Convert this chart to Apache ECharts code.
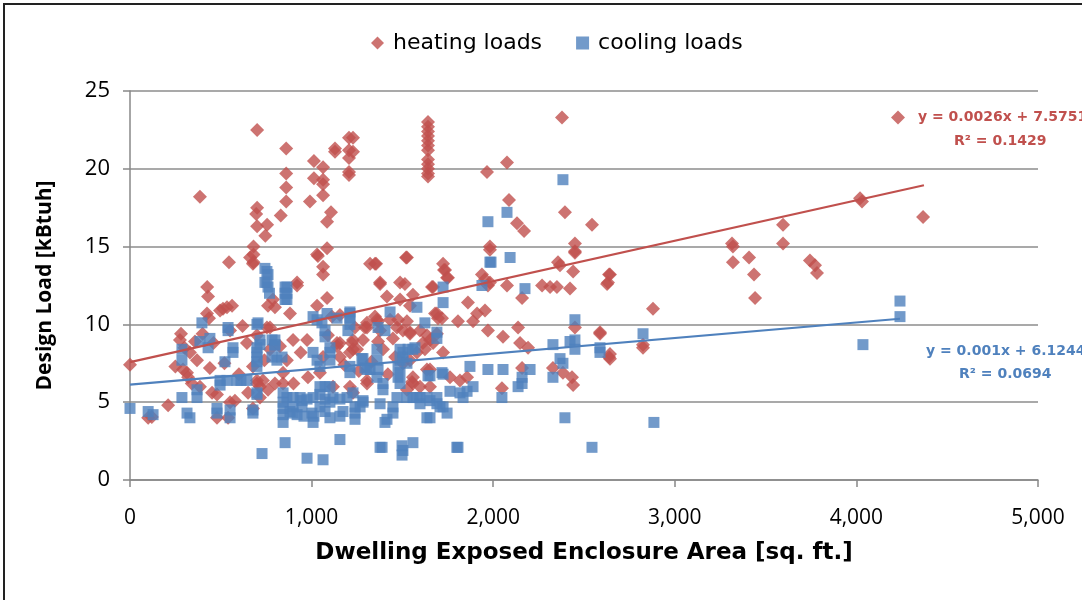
<!DOCTYPE html>
<html>
<head>
<meta charset="utf-8">
<script src="https://cdn.jsdelivr.net/npm/echarts@6/dist/echarts.min.js"></script>
<style>html,body{margin:0;padding:0;background:#fff;}#chart{width:1082px;height:600px;}</style>
</head>
<body>
<div id="chart"></div>
<script>
// ---- data ----
const xTicks = [0, 1000, 2000, 3000, 4000, 5000];
const yTicks = [0, 5, 10, 15, 20, 25];
const seriesNames = ['heating loads', 'cooling loads'];
const heatingTrend = { slope: 0.0026, intercept: 7.5751, r2: 0.1429, xEnd: 4372 };
const coolingTrend = { slope: 0.001, intercept: 6.1244, r2: 0.0694, xEnd: 4240 };

const heating = [
[0,7.4],[100,4.0],[120,4.05],[210,4.8],[281,9.4],[275,9.0],[292,7.1],[314,6.9],[320,6.6],[330,8.2],[358,8.9],[369,7.7],[385,18.2],[385,6.0],[425,12.4],[430,11.8],[424,10.7],[435,10.4],[440,7.2],[452,5.6],[479,5.5],[479,4.0],[496,10.9],[512,11.0],[534,11.1],[545,14.0],[562,11.2],[540,4.0],[551,5.0],[578,5.1],[551,9.6],[644,8.8],[661,14.3],[677,13.9],[677,7.3],[699,6.4],[677,4.6],[732,6.4],[716,6.0],[699,9.3],[699,6.2],[716,5.3],[680,15.0],[680,14.5],[680,14.0],[700,22.5],[700,17.5],[695,17.1],[700,16.3],[755,16.4],[745,15.7],[760,11.2],[787,11.6],[798,11.1],[754,9.8],[771,9.8],[771,8.4],[798,6.2],[826,8.6],[843,6.9],[843,6.2],[830,17.0],[860,21.3],[860,19.7],[860,18.8],[860,17.9],[864,7.7],[881,10.7],[898,9.0],[920,12.5],[920,12.7],[975,9.0],[980,6.6],[991,17.9],[1013,20.5],[1013,19.4],[1030,14.5],[1030,11.2],[1035,14.4],[1046,6.9],[1063,20.1],[1063,19.3],[1063,19.0],[1063,18.3],[1063,13.7],[1063,13.2],[1063,7.9],[1085,16.6],[1085,14.9],[1085,11.7],[1107,17.2],[1112,10.5],[1118,6.0],[1129,21.3],[1129,21.1],[1140,8.6],[1140,8.8],[1156,8.8],[1156,10.6],[1156,7.9],[1206,22.0],[1228,22.0],[1206,21.2],[1228,21.1],[1206,20.7],[1206,19.8],[1206,19.6],[1211,8.2],[1211,6.0],[1222,8.8],[1228,9.0],[1228,8.4],[1228,5.6],[1239,9.8],[1250,8.4],[1283,9.0],[1294,9.8],[1305,9.8],[1305,10.1],[1305,6.2],[1305,6.4],[1322,13.9],[1349,13.9],[1349,10.5],[1355,13.9],[1360,10.3],[1366,10.2],[1366,8.9],[1377,12.6],[1377,12.7],[1377,9.6],[1393,8.4],[1415,11.8],[1432,10.3],[1448,9.1],[1470,9.8],[1476,10.3],[1487,12.7],[1487,11.6],[1503,9.6],[1503,7.5],[1514,12.6],[1520,14.3],[1525,14.3],[1525,10.2],[1525,5.8],[1542,11.2],[1542,9.5],[1542,9.4],[1542,7.7],[1558,11.9],[1558,6.6],[1553,6.3],[1558,6.2],[1580,8.2],[1597,9.6],[1597,6.0],[1613,8.8],[1624,8.4],[1635,9.3],[1635,7.1],[1641,23.0],[1641,22.7],[1641,22.4],[1641,22.1],[1641,21.8],[1641,21.5],[1641,21.2],[1641,20.6],[1641,20.3],[1641,20.0],[1641,19.7],[1641,19.5],[1652,9.0],[1652,7.1],[1652,6.0],[1663,12.4],[1669,8.8],[1669,12.4],[1680,10.7],[1690,9.4],[1690,10.7],[1696,10.4],[1718,10.4],[1724,13.9],[1724,8.2],[1729,13.5],[1735,13.5],[1746,13.0],[1751,13.0],[1762,6.6],[1806,10.2],[1817,6.4],[1856,6.6],[1861,11.4],[1889,10.2],[1911,10.7],[1938,13.2],[1955,12.9],[1955,10.9],[1966,19.8],[1971,12.5],[1971,9.6],[1982,15.0],[1982,14.8],[1982,12.7],[2048,5.9],[2054,9.2],[2076,20.4],[2076,12.5],[2087,18.0],[2131,16.5],[2137,9.8],[2148,8.8],[2159,11.7],[2159,7.2],[2170,16.0],[2192,8.5],[2269,12.5],[2313,12.4],[2329,7.2],[2351,12.4],[2357,14.0],[2368,13.8],[2379,23.3],[2384,6.9],[2395,17.2],[2423,12.3],[2434,6.6],[2440,6.1],[2440,13.4],[2450,15.2],[2450,14.7],[2450,14.6],[2450,9.8],[2544,16.4],[2588,9.5],[2588,9.4],[2627,12.6],[2632,12.7],[2638,13.2],[2638,7.9],[2643,13.2],[2643,8.1],[2643,7.8],[2825,8.7],[2825,8.5],[2880,11.0],[3315,15.2],[3320,15.0],[3320,14.0],[3409,14.3],[3436,13.2],[3442,11.7],[3596,16.4],[3596,15.2],[3744,14.1],[3772,13.8],[3783,13.3],[4020,18.1],[4031,17.9],[4229,23.3],[4367,16.9],
[250,7.3],[300,8.5],[340,6.2],[400,9.4],[460,8.8],[520,7.5],[600,6.8],[620,9.9],[650,5.6],[740,7.7],[760,5.8],[900,6.2],[940,8.2],[1090,9.3],[1180,7.4],[1260,7.0],[1330,7.6],[1420,6.8],[1460,7.9]
];

const cooling = [
[0,4.6],[100,4.4],[127,4.2],[286,8.4],[286,7.7],[286,5.3],[314,4.3],[330,4.0],[369,5.8],[369,5.3],[396,10.1],[385,8.9],[440,9.1],[430,8.5],[479,4.6],[479,4.3],[496,6.4],[496,6.1],[523,7.6],[540,9.8],[540,9.6],[551,4.5],[551,4.0],[567,8.5],[567,8.2],[534,6.4],[589,6.4],[611,6.4],[644,6.4],[677,4.5],[677,4.3],[699,5.6],[699,5.5],[699,8.5],[699,8.2],[699,7.9],[699,7.6],[699,7.3],[699,10.0],[705,10.1],[716,8.7],[716,9.0],[727,1.7],[743,13.6],[754,13.4],[760,13.2],[743,12.7],[760,12.4],[754,12.7],[768,12.0],[782,9.0],[798,8.7],[798,9.0],[798,8.6],[782,7.9],[809,7.7],[837,7.9],[843,5.6],[843,5.0],[843,4.6],[843,4.2],[843,3.7],[854,12.4],[854,12.0],[854,11.6],[854,2.4],[864,12.4],[864,11.6],[864,12.0],[898,5.3],[898,4.7],[898,4.3],[947,5.1],[947,4.7],[1002,4.3],[1008,3.7],[975,1.4],[1063,1.3],[1008,10.5],[1030,10.3],[1008,8.2],[1030,7.7],[1046,7.3],[1057,10.1],[1074,9.6],[1074,9.2],[1085,10.7],[1046,6.0],[1074,6.0],[1101,6.0],[1046,5.5],[1074,5.2],[1101,5.0],[1046,4.7],[1074,4.4],[1101,4.0],[1101,8.5],[1101,8.2],[1101,7.7],[1140,10.4],[1156,2.6],[1211,10.8],[1211,10.4],[1211,10.0],[1200,9.6],[1211,10.7],[1211,7.3],[1211,6.9],[1228,5.6],[1239,4.7],[1239,4.3],[1239,3.9],[1267,4.7],[1283,5.1],[1277,7.8],[1283,7.8],[1294,7.2],[1305,7.1],[1322,7.1],[1360,8.4],[1360,7.7],[1366,7.1],[1360,6.6],[1366,9.8],[1377,4.9],[1377,2.1],[1388,2.1],[1393,6.2],[1393,5.8],[1404,9.6],[1404,3.7],[1415,3.9],[1432,10.8],[1448,4.7],[1448,4.3],[1470,5.3],[1476,7.3],[1476,6.6],[1487,8.4],[1487,7.7],[1487,6.9],[1487,6.2],[1498,2.2],[1498,1.6],[1503,1.9],[1503,8.2],[1503,7.9],[1525,7.5],[1525,5.3],[1531,8.4],[1558,8.4],[1558,2.4],[1569,8.5],[1558,5.3],[1580,11.1],[1580,5.3],[1597,4.9],[1597,5.3],[1624,10.1],[1635,5.3],[1635,4.0],[1641,6.7],[1652,6.7],[1652,5.1],[1652,4.0],[1690,9.5],[1690,9.1],[1690,5.3],[1690,4.9],[1707,4.7],[1718,6.9],[1724,12.4],[1724,11.4],[1724,6.8],[1724,4.7],[1746,4.3],[1762,5.7],[1800,2.1],[1806,2.1],[1817,5.6],[1834,5.3],[1856,5.7],[1872,7.3],[1889,6.0],[1938,12.5],[1971,16.6],[1971,7.1],[1982,14.0],[1988,14.0],[2048,5.3],[2054,7.1],[2076,17.2],[2093,14.3],[2137,6.0],[2159,6.6],[2159,6.2],[2175,12.3],[2203,7.1],[2329,8.7],[2329,6.6],[2368,7.8],[2384,7.5],[2384,19.3],[2395,4.0],[2423,8.9],[2450,10.3],[2450,9.0],[2450,8.4],[2544,2.1],[2588,8.5],[2588,8.2],[2825,9.4],[2885,3.7],[4036,8.7],[4240,11.5],[4240,10.5],
[864,5.3],[937,5.3],[975,5.2],[1008,5.3],[1118,5.3],[1156,5.2],[1195,5.3],[1283,5.0],
[881,4.4],[920,4.2],[958,4.1],[1013,4.1],[1156,4.1],[1173,4.4]
];

// ---- chart ----
const RED = '#C0504D', BLUE = '#4F81BD';
const FONT = "'Open Sans', 'Liberation Sans', sans-serif";
const WIDE = "'DejaVu Sans', sans-serif";
const trendLine = t => [[0, t.intercept], [t.xEnd, t.intercept + t.slope * t.xEnd]];
const fmt = v => v.toLocaleString('en-US');
const LBL = "bold 14px 'DejaVu Sans', sans-serif";

const chart = echarts.init(document.getElementById('chart'), null, { renderer: 'canvas' });
chart.setOption({
  animation: false,
  backgroundColor: '#ffffff',
  grid: { left: 130, right: 44, top: 91, bottom: 120, containLabel: false },
  legend: {
    top: 27, left: 366, itemGap: 34, itemWidth: 13, itemHeight: 13,
    textStyle: { fontFamily: WIDE, fontSize: 22, color: '#000', padding: [0, 0, 0, 4] },
    data: [
      { name: seriesNames[0], icon: 'diamond' },
      { name: seriesNames[1], icon: 'rect' }
    ]
  },
  xAxis: {
    type: 'value', min: xTicks[0], max: xTicks[xTicks.length - 1], interval: 1000,
    name: 'Dwelling Exposed Enclosure Area [sq. ft.]', nameLocation: 'middle', nameGap: 62,
    nameTextStyle: { fontFamily: WIDE, fontSize: 23, fontWeight: 'bold', color: '#000' },
    axisLine: { lineStyle: { color: '#888', width: 1.5 } },
    axisTick: { show: true, length: 7, inside: false, lineStyle: { color: '#888', width: 1.5 } },
    axisLabel: { fontFamily: FONT, fontSize: 21, color: '#000', margin: 28, formatter: fmt },
    splitLine: { show: false }
  },
  yAxis: {
    type: 'value', min: yTicks[0], max: yTicks[yTicks.length - 1], interval: 5,
    name: 'Design Load [kBtuh]', nameLocation: 'middle', nameGap: 74, nameRotate: 90,
    nameTextStyle: { fontFamily: FONT, fontSize: 21, fontWeight: 'bold', color: '#000' },
    axisLine: { show: true, lineStyle: { color: '#888', width: 1.5 } },
    axisTick: { show: true, length: 7, lineStyle: { color: '#888', width: 1.5 } },
    axisLabel: { fontFamily: FONT, fontSize: 22, color: '#000', margin: 20 },
    splitLine: { show: true, lineStyle: { color: '#8c8c8c', width: 1.5 } }
  },
  series: [
    {
      name: seriesNames[0], type: 'scatter', symbol: 'diamond', symbolSize: 14,
      itemStyle: { color: RED }, data: heating, z: 2
    },
    {
      name: seriesNames[1], type: 'scatter', symbol: 'rect', symbolSize: 11,
      itemStyle: { color: BLUE }, data: cooling, z: 3
    },
    {
      name: 'heating trend', type: 'line', data: trendLine(heatingTrend), symbol: 'none',
      lineStyle: { color: RED, width: 2.2 }, z: 4, silent: true
    },
    {
      name: 'cooling trend', type: 'line', data: trendLine(coolingTrend), symbol: 'none',
      lineStyle: { color: BLUE, width: 2.2 }, z: 4, silent: true
    }
  ],
  graphic: [
    { type: 'rect', x: 4, y: 4, shape: { width: 1100, height: 620 },
      style: { fill: 'none', stroke: '#222', lineWidth: 2 }, z: 100, silent: true },
    { type: 'text', x: 918, y: 117,
      style: { text: 'y = ' + heatingTrend.slope + 'x + ' + heatingTrend.intercept, fill: RED,
        font: LBL, textVerticalAlign: 'middle', verticalAlign: 'middle' } },
    { type: 'text', x: 954, y: 141,
      style: { text: 'R² = ' + heatingTrend.r2, fill: RED, font: LBL, textVerticalAlign: 'middle', verticalAlign: 'middle' } },
    { type: 'text', x: 926, y: 351,
      style: { text: 'y = ' + coolingTrend.slope + 'x + ' + coolingTrend.intercept, fill: BLUE,
        font: LBL, textVerticalAlign: 'middle', verticalAlign: 'middle' } },
    { type: 'text', x: 959, y: 374,
      style: { text: 'R² = ' + coolingTrend.r2, fill: BLUE, font: LBL, textVerticalAlign: 'middle', verticalAlign: 'middle' } }
  ]
});
</script>
</body>
</html>
